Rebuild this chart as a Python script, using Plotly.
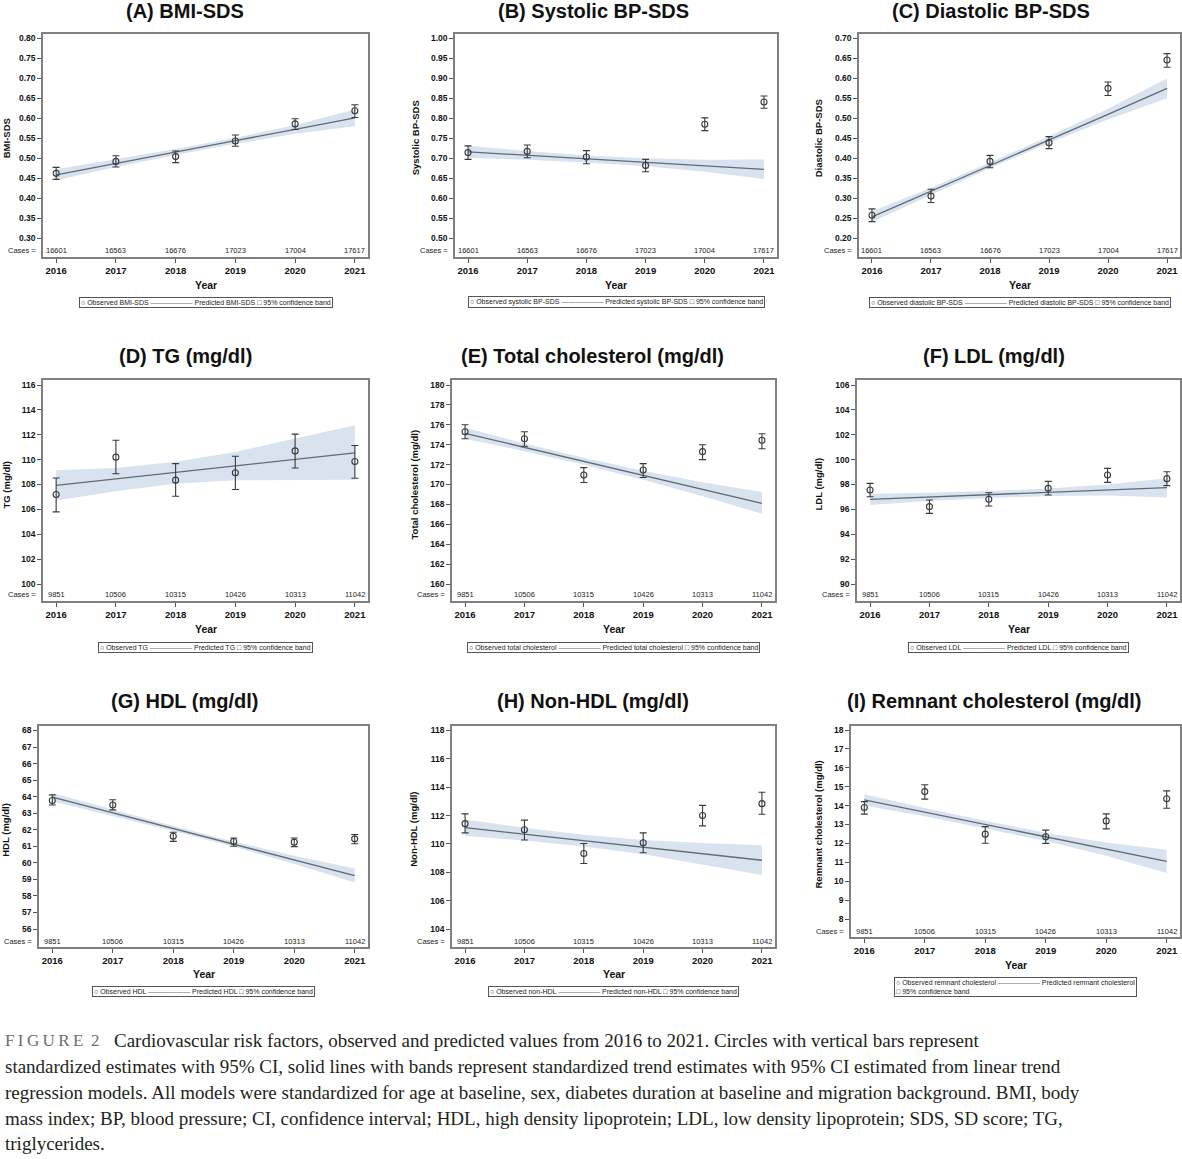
import plotly.graph_objects as go
import numpy as np

# ---------------- DATA ----------------
YEARS = [2016, 2017, 2018, 2019, 2020, 2021]
YEAR_LABELS = ["2016", "2017", "2018", "2019", "2020", "2021"]
CASES_SDS = [16601, 16563, 16676, 17023, 17004, 17617]
CASES_LAB = [9851, 10506, 10315, 10426, 10313, 11042]

# (A) BMI-SDS
bmi_obs = [0.462, 0.492, 0.504, 0.543, 0.586, 0.619]
bmi_lo = [0.447, 0.478, 0.489, 0.530, 0.572, 0.602]
bmi_hi = [0.477, 0.506, 0.518, 0.558, 0.599, 0.634]
bmi_pred = [0.458, 0.487, 0.515, 0.544, 0.572, 0.601]
bmi_band_lo = [0.445, 0.478, 0.508, 0.536, 0.561, 0.580]
bmi_band_hi = [0.472, 0.497, 0.523, 0.551, 0.583, 0.622]
bmi_ticks = [0.30, 0.35, 0.40, 0.45, 0.50, 0.55, 0.60, 0.65, 0.70, 0.75, 0.80]

# (B) Systolic BP-SDS
sbp_obs = [0.714, 0.717, 0.703, 0.682, 0.785, 0.841]
sbp_lo = [0.697, 0.701, 0.686, 0.666, 0.769, 0.825]
sbp_hi = [0.731, 0.733, 0.719, 0.697, 0.801, 0.856]
sbp_pred = [0.716, 0.707, 0.698, 0.690, 0.681, 0.672]
sbp_band_lo = [0.701, 0.696, 0.689, 0.680, 0.666, 0.648]
sbp_band_hi = [0.731, 0.718, 0.707, 0.700, 0.696, 0.697]
sbp_ticks = [0.50, 0.55, 0.60, 0.65, 0.70, 0.75, 0.80, 0.85, 0.90, 0.95, 1.00]

# (C) Diastolic BP-SDS
dbp_obs = [0.257, 0.305, 0.392, 0.439, 0.575, 0.646]
dbp_lo = [0.241, 0.289, 0.376, 0.424, 0.557, 0.628]
dbp_hi = [0.273, 0.322, 0.407, 0.454, 0.591, 0.662]
dbp_pred = [0.253, 0.317, 0.382, 0.446, 0.510, 0.575]
dbp_band_lo = [0.240, 0.308, 0.375, 0.438, 0.497, 0.550]
dbp_band_hi = [0.267, 0.326, 0.389, 0.455, 0.524, 0.600]
dbp_ticks = [0.20, 0.25, 0.30, 0.35, 0.40, 0.45, 0.50, 0.55, 0.60, 0.65, 0.70]

# (D) TG
tg_obs = [107.2, 110.2, 108.35, 108.95, 110.7, 109.85]
tg_lo = [105.8, 108.87, 107.05, 107.6, 109.33, 108.5]
tg_hi = [108.52, 111.56, 109.68, 110.27, 112.05, 111.13]
tg_pred = [107.93, 108.45, 108.97, 109.5, 110.02, 110.54]
tg_band_lo = [106.72, 107.45, 108.07, 108.34, 108.35, 108.39]
tg_band_hi = [109.14, 109.33, 109.82, 110.62, 111.70, 112.77]
tg_ticks = [100, 102, 104, 106, 108, 110, 112, 114, 116]

# (E) Total cholesterol
tc_obs = [175.3, 174.6, 170.95, 171.45, 173.3, 174.45]
tc_lo = [174.6, 173.85, 170.2, 170.7, 172.5, 173.6]
tc_hi = [176.0, 175.3, 171.7, 172.1, 174.0, 175.1]
tc_pred = [175.14, 173.73, 172.33, 170.92, 169.52, 168.11]
tc_band_lo = [174.6, 173.33, 171.98, 170.47, 168.82, 167.05]
tc_band_hi = [175.7, 174.13, 172.68, 171.37, 170.22, 169.25]
tc_ticks = [160, 162, 164, 166, 168, 170, 172, 174, 176, 178, 180]

# (F) LDL
ldl_obs = [97.56, 96.22, 96.81, 97.69, 98.76, 98.47]
ldl_lo = [97.02, 95.68, 96.27, 97.16, 98.17, 97.91]
ldl_hi = [98.09, 96.75, 97.34, 98.25, 99.30, 99.03]
ldl_pred = [96.81, 97.0, 97.19, 97.37, 97.56, 97.75]
ldl_band_lo = [96.36, 96.67, 96.91, 97.07, 97.11, 96.95]
ldl_band_hi = [97.26, 97.33, 97.47, 97.67, 98.01, 98.5]
ldl_ticks = [90, 92, 94, 96, 98, 100, 102, 104, 106]

# (G) HDL
hdl_obs = [63.77, 63.5, 61.61, 61.29, 61.25, 61.45]
hdl_lo = [63.5, 63.2, 61.3, 61.0, 60.98, 61.15]
hdl_hi = [64.11, 63.81, 61.85, 61.5, 61.5, 61.71]
hdl_pred = [63.97, 63.02, 62.07, 61.13, 60.18, 59.23]
hdl_band_lo = [63.72, 62.84, 61.92, 60.97, 59.93, 58.81]
hdl_band_hi = [64.22, 63.2, 62.22, 61.29, 60.43, 59.65]
hdl_ticks = [56, 57, 58, 59, 60, 61, 62, 63, 64, 65, 66, 67, 68]

# (H) Non-HDL
nhdl_obs = [111.43, 111.0, 109.32, 110.08, 112.0, 112.84]
nhdl_lo = [110.78, 110.28, 108.62, 109.38, 111.27, 112.09]
nhdl_hi = [112.12, 111.68, 110.03, 110.78, 112.72, 113.64]
nhdl_pred = [111.15, 110.69, 110.23, 109.77, 109.31, 108.85]
nhdl_band_lo = [110.57, 110.24, 109.81, 109.27, 108.56, 107.8]
nhdl_band_hi = [111.73, 111.14, 110.65, 110.27, 110.06, 109.9]
nhdl_ticks = [104, 106, 108, 110, 112, 114, 116, 118]

# (I) Remnant cholesterol
rem_obs = [13.9, 14.74, 12.49, 12.35, 13.19, 14.36]
rem_lo = [13.55, 14.34, 12.01, 12.0, 12.77, 13.86]
rem_hi = [14.21, 15.1, 12.89, 12.7, 13.56, 14.78]
rem_pred = [14.30, 13.65, 13.0, 12.35, 11.70, 11.05]
rem_band_lo = [14.0, 13.43, 12.8, 12.13, 11.35, 10.43]
rem_band_hi = [14.6, 13.87, 13.2, 12.57, 12.05, 11.67]
rem_ticks = [8, 9, 10, 11, 12, 13, 14, 15, 16, 17, 18]

CAPTION_LINES = [
    "Cardiovascular risk factors, observed and predicted values from 2016 to 2021. Circles with vertical bars represent",
    "standardized estimates with 95% CI, solid lines with bands represent standardized trend estimates with 95% CI estimated from linear trend",
    "regression models. All models were standardized for age at baseline, sex, diabetes duration at baseline and migration background. BMI, body",
    "mass index; BP, blood pressure; CI, confidence interval; HDL, high density lipoprotein; LDL, low density lipoprotein; SDS, SD score; TG,",
    "triglycerides.",
]

# ---------------- LAYOUT GEOMETRY (pixels) ----------------
W, H = 1182, 1159
ROW1 = dict(ft=34, fb=257, pt=38.5, pb=238, title_y=11, cases_y=250, year_y=285, leg_y=302)
ROW2 = dict(ft=380, fb=601, pt=385, pb=584, title_y=356, cases_y=595, year_y=629, leg_y=647)
ROW3 = dict(ft=726, fb=947, pt=730.5, pb=929, title_y=701, cases_y=941, year_y=974, leg_y=992)
ROW3I = dict(ft=726, fb=937, pt=730, pb=919, title_y=701, cases_y=931, year_y=965, leg_y=987)

panels = [
    dict(title="(A) BMI-SDS", ytitle="BMI-SDS", obs_name="Observed BMI-SDS", pred_name="Predicted BMI-SDS",
         obs=bmi_obs, lo=bmi_lo, hi=bmi_hi, pred=bmi_pred, blo=bmi_band_lo, bhi=bmi_band_hi, ticks=bmi_ticks,
         fmt=".2f", cases=CASES_SDS, row=ROW1, fl=43, fr=368, tx=185, ytx=6),
    dict(title="(B) Systolic BP-SDS", ytitle="Systolic BP-SDS", obs_name="Observed systolic BP-SDS",
         pred_name="Predicted systolic BP-SDS",
         obs=sbp_obs, lo=sbp_lo, hi=sbp_hi, pred=sbp_pred, blo=sbp_band_lo, bhi=sbp_band_hi, ticks=sbp_ticks,
         fmt=".2f", cases=CASES_SDS, row=ROW1, fl=455, fr=777, tx=593, ytx=415),
    dict(title="(C) Diastolic BP-SDS", ytitle="Diastolic BP-SDS", obs_name="Observed diastolic BP-SDS",
         pred_name="Predicted diastolic BP-SDS",
         obs=dbp_obs, lo=dbp_lo, hi=dbp_hi, pred=dbp_pred, blo=dbp_band_lo, bhi=dbp_band_hi, ticks=dbp_ticks,
         fmt=".2f", cases=CASES_SDS, row=ROW1, fl=859, fr=1180, tx=991, ytx=818),
    dict(title="(D) TG (mg/dl)", ytitle="TG (mg/dl)", obs_name="Observed TG", pred_name="Predicted TG",
         obs=tg_obs, lo=tg_lo, hi=tg_hi, pred=tg_pred, blo=tg_band_lo, bhi=tg_band_hi, ticks=tg_ticks,
         fmt="d", cases=CASES_LAB, row=ROW2, fl=43, fr=368, tx=185, ytx=6),
    dict(title="(E) Total cholesterol (mg/dl)", ytitle="Total cholesterol (mg/dl)",
         obs_name="Observed total cholesterol", pred_name="Predicted total cholesterol",
         obs=tc_obs, lo=tc_lo, hi=tc_hi, pred=tc_pred, blo=tc_band_lo, bhi=tc_band_hi, ticks=tc_ticks,
         fmt="d", cases=CASES_LAB, row=ROW2, fl=452, fr=775, tx=592, ytx=414),
    dict(title="(F) LDL (mg/dl)", ytitle="LDL (mg/dl)", obs_name="Observed LDL", pred_name="Predicted LDL",
         obs=ldl_obs, lo=ldl_lo, hi=ldl_hi, pred=ldl_pred, blo=ldl_band_lo, bhi=ldl_band_hi, ticks=ldl_ticks,
         fmt="d", cases=CASES_LAB, row=ROW2, fl=857, fr=1180, tx=994, ytx=818),
    dict(title="(G) HDL (mg/dl)", ytitle="HDL (mg/dl)", obs_name="Observed HDL", pred_name="Predicted HDL",
         obs=hdl_obs, lo=hdl_lo, hi=hdl_hi, pred=hdl_pred, blo=hdl_band_lo, bhi=hdl_band_hi, ticks=hdl_ticks,
         fmt="d", cases=CASES_LAB, row=ROW3, fl=39, fr=368, tx=184, ytx=6),
    dict(title="(H) Non-HDL (mg/dl)", ytitle="Non-HDL (mg/dl)", obs_name="Observed non-HDL",
         pred_name="Predicted non-HDL",
         obs=nhdl_obs, lo=nhdl_lo, hi=nhdl_hi, pred=nhdl_pred, blo=nhdl_band_lo, bhi=nhdl_band_hi,
         ticks=nhdl_ticks, fmt="d", cases=CASES_LAB, row=ROW3, fl=452, fr=775, tx=593, ytx=414),
    dict(title="(I) Remnant cholesterol (mg/dl)", ytitle="Remnant cholesterol (mg/dl)",
         obs_name="Observed remnant cholesterol", pred_name="Predicted remnant cholesterol",
         obs=rem_obs, lo=rem_lo, hi=rem_hi, pred=rem_pred, blo=rem_band_lo, bhi=rem_band_hi, ticks=rem_ticks,
         fmt="d", cases=CASES_LAB, row=ROW3I, fl=851, fr=1180, tx=994, ytx=818, wrap_legend=True),
]

SANS = "Liberation Sans, Arial, sans-serif"
SERIF = "Liberation Serif, Times New Roman, serif"
BAND = "#d9e3f0"
LINE = "#5f6b75"
MARK = "#3a3a3a"
FRAME = "#808080"
XRANGE = [2015.78, 2021.22]


def px(x):
    return x / W


def py(y):
    return 1 - y / H


fig = go.Figure()
annotations = []
layout_axes = {}

for i, p in enumerate(panels, start=1):
    r = p["row"]
    xa = "x" if i == 1 else f"x{i}"
    ya = "y" if i == 1 else f"y{i}"
    xkey = "xaxis" if i == 1 else f"xaxis{i}"
    ykey = "yaxis" if i == 1 else f"yaxis{i}"

    # y range from tick pixel positions
    v0, v1 = p["ticks"][0], p["ticks"][-1]
    s = (v1 - v0) / (r["pb"] - r["pt"])
    ymin = v0 - (r["fb"] - r["pb"]) * s
    ymax = v1 + (r["pt"] - r["ft"]) * s

    # confidence band
    fig.add_trace(go.Scatter(
        x=YEARS + YEARS[::-1], y=p["bhi"] + p["blo"][::-1],
        fill="toself", fillcolor=BAND, line=dict(width=0), mode="lines",
        name="95% confidence band", showlegend=False, hoverinfo="skip",
        xaxis=xa, yaxis=ya))
    # predicted line
    fig.add_trace(go.Scatter(
        x=YEARS, y=p["pred"], mode="lines", line=dict(color=LINE, width=1.3),
        name=p["pred_name"], showlegend=False, xaxis=xa, yaxis=ya))
    # observed with CI
    obs = np.array(p["obs"])
    fig.add_trace(go.Scatter(
        x=YEARS, y=p["obs"], mode="markers",
        marker=dict(symbol="circle-open", size=6, color=MARK, line=dict(width=1.1, color=MARK)),
        error_y=dict(type="data", symmetric=False,
                     array=(np.array(p["hi"]) - obs).tolist(),
                     arrayminus=(obs - np.array(p["lo"])).tolist(),
                     color=MARK, thickness=1.1, width=3.5),
        name=p["obs_name"], showlegend=False, xaxis=xa, yaxis=ya))

    layout_axes[xkey] = dict(
        domain=[px(p["fl"]), px(p["fr"])], anchor=ya, range=XRANGE,
        tickmode="array", tickvals=YEARS, ticktext=YEAR_LABELS,
        ticks="outside", ticklen=4, tickwidth=1, tickcolor="#555",
        tickfont=dict(family=SANS, size=9.5, color="#111", weight="bold"),
        showline=True, mirror=True, linecolor=FRAME, linewidth=1.5,
        showgrid=False, zeroline=False, fixedrange=True)
    layout_axes[ykey] = dict(
        domain=[py(r["fb"]), py(r["ft"])], anchor=xa, range=[ymin, ymax],
        tickmode="array", tickvals=p["ticks"],
        ticktext=[format(t, p["fmt"]) if p["fmt"] != "d" else str(int(t)) for t in p["ticks"]],
        ticks="outside", ticklen=4, tickwidth=1, tickcolor="#555",
        tickfont=dict(family=SANS, size=8.5, color="#111", weight="bold"),
        showline=True, mirror=True, linecolor=FRAME, linewidth=1.5,
        showgrid=False, zeroline=False, fixedrange=True)

    # panel title
    annotations.append(dict(text=p["title"], x=px(p["tx"]), y=py(r["title_y"]), xref="paper", yref="paper",
                            xanchor="center", yanchor="middle", showarrow=False,
                            font=dict(family=SANS, size=20, color="#111", weight="bold")))
    # y axis title
    annotations.append(dict(text=p["ytitle"], x=px(p["ytx"]), y=py((r["pt"] + r["pb"]) / 2),
                            xref="paper", yref="paper", textangle=-90,
                            xanchor="center", yanchor="middle", showarrow=False,
                            font=dict(family=SANS, size=9.5, color="#111", weight="bold")))
    # x axis title
    annotations.append(dict(text="Year", x=px((p["fl"] + p["fr"]) / 2), y=py(r["year_y"]),
                            xref="paper", yref="paper", xanchor="center", yanchor="middle", showarrow=False,
                            font=dict(family=SANS, size=10.5, color="#111", weight="bold")))
    # cases row
    annotations.append(dict(text="Cases =", x=px(p["fl"] - 5), y=py(r["cases_y"]),
                            xref="paper", yref="paper", xanchor="right", yanchor="middle", showarrow=False,
                            font=dict(family=SANS, size=7.5, color="#222")))
    for yr, c in zip(YEARS, p["cases"]):
        annotations.append(dict(text=str(c), x=yr, y=py(r["cases_y"]), xref=xa, yref="paper",
                                xanchor="center", yanchor="middle", showarrow=False,
                                font=dict(family=SANS, size=7.5, color="#222")))
    # legend box
    dash = f"<span style='color:{LINE}'>——————</span>"
    if p.get("wrap_legend"):
        ltxt = f"○ {p['obs_name']} {dash} {p['pred_name']}<br>□ 95% confidence band"
    else:
        ltxt = f"○ {p['obs_name']} {dash} {p['pred_name']} □ 95% confidence band"
    annotations.append(dict(text=ltxt, x=px((p["fl"] + p["fr"]) / 2), y=py(r["leg_y"]),
                            xref="paper", yref="paper", xanchor="center", yanchor="middle",
                            showarrow=False, align="left",
                            bordercolor="#555", borderwidth=1, borderpad=1, bgcolor="white",
                            font=dict(family=SANS, size=7, color="#222")))

# caption
CAP_Y = [1040, 1066, 1092, 1118, 1143]
annotations.append(dict(text="F\u2009I\u2009G\u2009U\u2009R\u2009E\u2009 2", x=px(3), y=py(CAP_Y[0]),
                        xref="paper", yref="paper", xanchor="left", yanchor="middle", showarrow=False,
                        font=dict(family=SERIF, size=17, color="#6d6e70")))
for k, line in enumerate(CAPTION_LINES):
    annotations.append(dict(text=line, x=px(112 if k == 0 else 3), y=py(CAP_Y[k]),
                            xref="paper", yref="paper", xanchor="left", yanchor="middle", showarrow=False,
                            font=dict(family=SERIF, size=19, color="#231f20")))

fig.update_layout(
    width=W, height=H, autosize=False,
    margin=dict(l=0, r=0, t=0, b=0),
    paper_bgcolor="white", plot_bgcolor="white",
    showlegend=False, annotations=annotations,
    **layout_axes)

fig.write_html("out.html", config={"displayModeBar": False},
               post_script="document.body.style.margin='0px';document.body.style.overflow='hidden';")
